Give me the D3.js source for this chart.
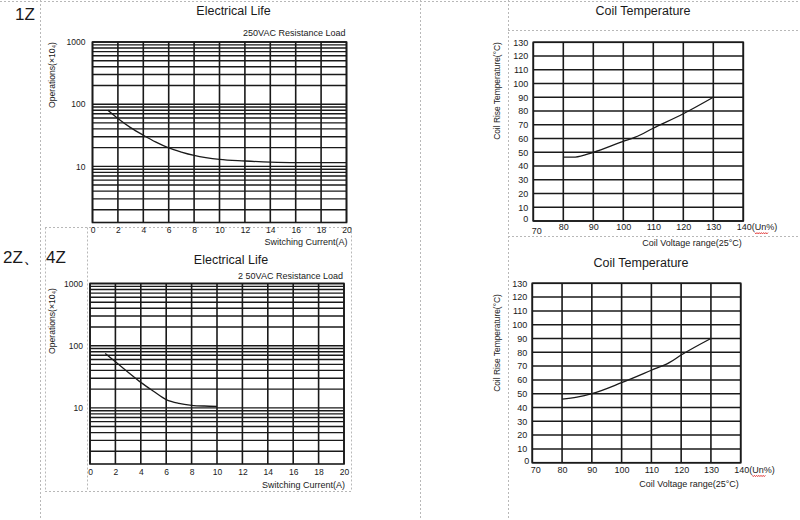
<!DOCTYPE html>
<html><head><meta charset="utf-8">
<script src="https://cdn.jsdelivr.net/npm/d3@7"></script>
<style>
html,body{margin:0;padding:0;background:#fff;}
svg{display:block;font-family:"Liberation Sans",Arial,sans-serif;}
</style></head>
<body>
<svg id="c" width="800" height="520"></svg>
<script>
// ---- data ----
const lifeXTicks = [0,2,4,6,8,10,12,14,16,18,20];
const lifeYTicks = [10,100,1000];
const life1ZCurrent = [1.2, 2, 3, 4, 5, 6, 7, 8, 10, 12, 14, 16, 18, 20];
const life1ZOps     = [80, 59, 42, 31.7, 24.5, 19.8, 17, 15, 12.9, 12.2, 11.7, 11.5, 11.5, 11.5];
const life4ZCurrent = [1.2, 2, 3, 4, 5, 6, 7, 8, 9, 10];
const life4ZOps     = [75, 55, 37.5, 25.7, 18.5, 13.6, 11.8, 11, 10.7, 10.6];

const tempXTicks = [70,80,90,100,110,120,130,140];
const tempYTicks = [0,10,20,30,40,50,60,70,80,90,100,110,120,130];
const temp1ZVolt = [80, 84, 90, 100, 104, 110, 120, 130];
const temp1ZRise = [46.5, 46.5, 50, 58, 61, 67.5, 78, 90];
const temp4ZVolt = [80, 85, 90, 100, 110, 116, 120, 130];
const temp4ZRise = [46, 47.5, 50, 58, 67, 72.5, 78, 90];

const svg = d3.select("#c");
const ink = "#1a1a1a";

// ---- dashed frame lines ----
const dash = svg.append("g").attr("stroke","#b8b8b8").attr("stroke-width",1).attr("stroke-dasharray","2,2").attr("fill","none");
[[0,1.5,800,1.5],[40.5,0,40.5,520],[420.5,0,420.5,520],[508.5,0,508.5,520],
 [508,30.5,800,30.5],[508,236.5,800,236.5],
 [45,227.5,351,227.5],[45.5,227.5,45.5,491.5],[87.5,227.5,87.5,491.5],[351.5,227.5,351.5,491.5],[45,491.5,351,491.5]
].forEach(l=>dash.append("line").attr("x1",l[0]).attr("y1",l[1]).attr("x2",l[2]).attr("y2",l[3]));

// ---- helpers ----
function txt(x,y,s,size,anchor){
  return svg.append("text").attr("x",x).attr("y",y).attr("font-size",size)
    .attr("text-anchor",anchor||"start").attr("fill",ink).text(s);
}

function lifeChart(o){
  const x = d3.scaleLinear().domain([0,20]).range([o.x0,o.x1]);
  const y = d3.scaleLog().domain([1.25,1000]).range([o.y1,o.y0]);
  const g = svg.append("g");
  g.selectAll(".h").data(y.ticks().filter(v=>v>=2)).join("line")
    .attr("x1",o.x0).attr("x2",o.x1).attr("y1",d=>y(d)).attr("y2",d=>y(d))
    .attr("stroke",ink).attr("stroke-width",1.4);
  g.selectAll(".v").data(lifeXTicks).join("line")
    .attr("x1",d=>x(d)).attr("x2",d=>x(d)).attr("y1",o.y0).attr("y2",o.y1)
    .attr("stroke",ink).attr("stroke-width",1.6);
  g.append("rect").attr("x",o.x0).attr("y",o.y0).attr("width",o.x1-o.x0).attr("height",o.y1-o.y0)
    .attr("fill","none").attr("stroke",ink).attr("stroke-width",1.6);
  const ax = g.append("g").attr("transform",`translate(0,${o.y1})`)
    .call(d3.axisBottom(x).tickValues(lifeXTicks).tickSize(0).tickPadding(o.xpad));
  const ay = g.append("g").attr("transform",`translate(${o.x0},0)`)
    .call(d3.axisLeft(y).tickValues(lifeYTicks).tickFormat(d3.format("d")).tickSize(0).tickPadding(7));
  [ax,ay].forEach(a=>{a.select(".domain").remove();
    a.selectAll("text").attr("font-size",8.5).attr("fill",ink).attr("font-family","Liberation Sans, Arial, sans-serif");});
  const line = d3.line().x((d,i)=>x(o.cx[i])).y((d,i)=>y(o.cy[i])).curve(d3.curveMonotoneX);
  g.append("path").attr("d",line(o.cx)).attr("fill","none").attr("stroke",ink).attr("stroke-width",1.3);
  txt((o.x0+o.x1)/2+14, o.titleY, "Electrical Life", 12.5, "middle");
  txt(o.x1-1, o.loadY, o.loadText, 9, "end");
  txt(o.x1+1, o.unitY, "Switching Current(A)", 9, "end");
  svg.append("text").attr("transform",`translate(${o.labX},${o.labY}) rotate(-90)`)
    .attr("text-anchor","middle").attr("font-size",8.6).attr("fill",ink).text("Operations(×10₄)");
}

function tempChart(o){
  const x = d3.scaleLinear().domain([70,140]).range([o.x0,o.x1]);
  const y = d3.scaleLinear().domain([0,130]).range([o.y1,o.y0]);
  const g = svg.append("g");
  g.selectAll(".h").data(tempYTicks).join("line")
    .attr("x1",o.x0).attr("x2",o.x1).attr("y1",d=>y(d)).attr("y2",d=>y(d))
    .attr("stroke",ink).attr("stroke-width",1.5);
  g.selectAll(".v").data(tempXTicks).join("line")
    .attr("x1",d=>x(d)).attr("x2",d=>x(d)).attr("y1",o.y0).attr("y2",o.y1)
    .attr("stroke",ink).attr("stroke-width",1.6);
  g.append("rect").attr("x",o.x0).attr("y",o.y0).attr("width",o.x1-o.x0).attr("height",o.y1-o.y0)
    .attr("fill","none").attr("stroke",ink).attr("stroke-width",1.6);
  const ax = g.append("g").attr("transform",`translate(0,${o.y1})`)
    .call(d3.axisBottom(x).tickValues(tempXTicks).tickSize(0).tickPadding(o.xpad));
  const ay = g.append("g").attr("transform",`translate(${o.x0},0)`)
    .call(d3.axisLeft(y).tickValues(tempYTicks).tickSize(0).tickPadding(5));
  [ax,ay].forEach(a=>{a.select(".domain").remove();
    a.selectAll("text").attr("font-size",9).attr("fill",ink).attr("font-family","Liberation Sans, Arial, sans-serif");});
  ax.selectAll(".tick").filter(d=>d===70).select("text").attr("dx",3).attr("dy",o.d70);
  ay.selectAll(".tick").filter(d=>d===0).select("text").attr("dy",o.d0).attr("dx",o.dx0);
  const last = ax.selectAll(".tick").filter(d=>d===140).select("text").attr("text-anchor","start").attr("dx",-7).text("140");
  last.append("tspan").text("(");
  last.append("tspan").text("Un");
  last.append("tspan").text("%)");
  // red wavy underline under "Un"
  const ux = x(140)+11.5, uy = o.y1 + o.xpad + 8.6;
  let p = `M${ux},${uy}`;
  for(let i=0;i<6;i++){ p += ` l1.1,1.3 l1.1,-1.3`; }
  g.append("path").attr("d",p).attr("fill","none").attr("stroke","#e03030").attr("stroke-width",0.9);
  const line = d3.line().x((d,i)=>x(o.cx[i])).y((d,i)=>y(o.cy[i])).curve(d3.curveMonotoneX);
  g.append("path").attr("d",line(o.cx)).attr("fill","none").attr("stroke",ink).attr("stroke-width",1.3);
  txt(o.titleX, o.titleY, "Coil Temperature", 12.5, "middle");
  txt(o.unitX, o.unitY, "Coil Voltage range(25°C)", 9, "middle");
  svg.append("text").attr("transform",`translate(${o.labX},${o.labY}) rotate(-90)`)
    .attr("text-anchor","middle").attr("font-size",8.4).attr("fill",ink).text("Coil Rise Temperature(°C)");
}

// ---- draw ----
lifeChart({x0:92.5,x1:346.5,y0:42,y1:222.5,xpad:4.5,cx:life1ZCurrent,cy:life1ZOps,
  titleY:15,loadY:36,loadText:"250VAC  Resistance  Load",unitY:245,labX:55,labY:75});
lifeChart({x0:90,x1:344,y0:283.5,y1:464,xpad:4.5,cx:life4ZCurrent,cy:life4ZOps,
  titleY:264,loadY:279,loadText:"2 50VAC  Resistance  Load",unitY:488,labX:54.5,labY:321});
tempChart({x0:533.3,x1:743.3,y0:42.3,y1:221,xpad:3,cx:temp1ZVolt,cy:temp1ZRise,d70:"1.1em",d0:"0.1em",dx0:0,
  titleX:643,titleY:14.5,unitX:692,unitY:246,labX:499.5,labY:91});
tempChart({x0:532.3,x1:740.7,y0:283.3,y1:462.7,xpad:4,cx:temp4ZVolt,cy:temp4ZRise,d70:"0.71em",d0:"0.05em",dx0:2,
  titleX:641,titleY:267,unitX:689,unitY:487,labX:499.5,labY:343});

txt(15,20,"1Z",17,"start");
txt(3,263,"2Z、",17,"start");
txt(46,263,"4Z",17,"start");
</script>
</body></html>
